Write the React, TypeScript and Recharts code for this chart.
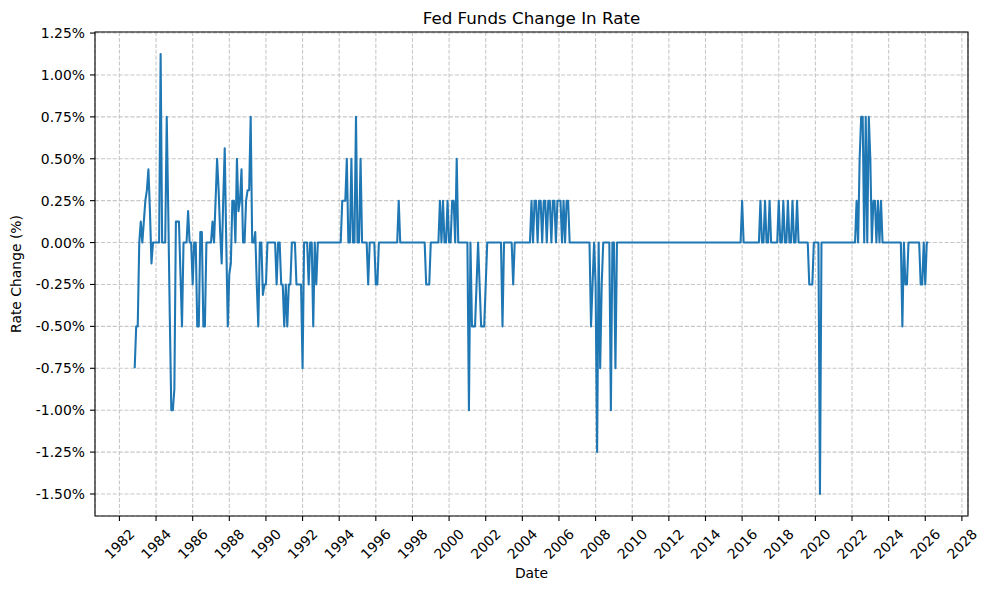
import React from 'react';
import { LineChart, Line, XAxis, YAxis, CartesianGrid, ReferenceArea } from 'recharts';

// Monthly change in the Fed funds target (percentage points), one entry per month,
// plotted at the end of that month. 1982 starts in October.
const FIRST_YEAR = 1982;
const FIRST_MONTH = 10;
const y1982 = [-0.75, -0.5, -0.5];
const y1983 = [0, 0.125, 0, 0.125, 0.25, 0.3125, 0.4375, 0.1875, -0.125, 0, 0, 0];
const y1984 = [0, 0, 1.125, 0, 0, 0, 0.75, 0.1875, -0.4375, -1.0, -1.0, -0.875];
const y1985 = [0.125, 0.125, 0.125, -0.1875, -0.5, 0, 0, 0, 0.1875, 0, 0, -0.25];
const y1986 = [0, 0, -0.5, -0.5, 0.0625, 0.0625, -0.5, -0.5, 0, 0, 0, 0];
const y1987 = [0.125, 0, 0.25, 0.5, 0.3125, 0.0625, -0.125, 0.25, 0.5625, 0, -0.5, -0.1875];
const y1988 = [-0.125, 0.25, 0.25, 0, 0.5, 0.1875, 0.25, 0.4375, 0, 0, 0.25, 0.3125];
const y1989 = [0.3125, 0.75, 0, 0, 0.0625, -0.25, -0.5, 0, 0, -0.3125, -0.25, -0.25];
const y1990 = [0, 0, 0, 0, 0, 0, -0.25, 0, 0, -0.25, -0.25, -0.5];
const y1991 = [-0.25, -0.5, -0.25, -0.25, 0, 0, 0, -0.25, -0.25, -0.25, -0.25, -0.75];
const y1992 = [0, 0, 0, -0.25, 0, 0, -0.5, 0, -0.25, 0, 0, 0];
const y1993 = [0, 0, 0, 0, 0, 0, 0, 0, 0, 0, 0, 0];
const y1994 = [0, 0.25, 0.25, 0.25, 0.5, 0, 0, 0.5, 0, 0, 0.75, 0];
const y1995 = [0, 0.5, 0, 0, 0, 0, -0.25, 0, 0, 0, 0, -0.25];
const y1996 = [-0.25, 0, 0, 0, 0, 0, 0, 0, 0, 0, 0, 0];
const y1997 = [0, 0, 0.25, 0, 0, 0, 0, 0, 0, 0, 0, 0];
const y1998 = [0, 0, 0, 0, 0, 0, 0, 0, -0.25, -0.25, -0.25, 0];
const y1999 = [0, 0, 0, 0, 0, 0.25, 0, 0.25, 0, 0, 0.25, 0];
const y2000 = [0, 0.25, 0.25, 0, 0.5, 0, 0, 0, 0, 0, 0, 0];
const y2001 = [-1.0, 0, -0.5, -0.5, -0.5, -0.25, 0, -0.25, -0.5, -0.5, -0.5, -0.25];
const y2002 = [0, 0, 0, 0, 0, 0, 0, 0, 0, 0, -0.5, 0];
const y2003 = [0, 0, 0, 0, 0, -0.25, 0, 0, 0, 0, 0, 0];
const y2004 = [0, 0, 0, 0, 0, 0.25, 0, 0.25, 0.25, 0, 0.25, 0.25];
const y2005 = [0, 0.25, 0.25, 0, 0.25, 0.25, 0, 0.25, 0.25, 0, 0.25, 0.25];
const y2006 = [0.25, 0, 0.25, 0, 0.25, 0.25, 0, 0, 0, 0, 0, 0];
const y2007 = [0, 0, 0, 0, 0, 0, 0, 0, -0.5, -0.25, 0, -0.25];
const y2008 = [-1.25, 0, -0.75, -0.25, 0, 0, 0, 0, 0, -1.0, 0, 0];
const y2009 = [-0.75, 0, 0, 0, 0, 0, 0, 0, 0, 0, 0, 0];
const y2010 = [0, 0, 0, 0, 0, 0, 0, 0, 0, 0, 0, 0];
const y2011 = [0, 0, 0, 0, 0, 0, 0, 0, 0, 0, 0, 0];
const y2012 = [0, 0, 0, 0, 0, 0, 0, 0, 0, 0, 0, 0];
const y2013 = [0, 0, 0, 0, 0, 0, 0, 0, 0, 0, 0, 0];
const y2014 = [0, 0, 0, 0, 0, 0, 0, 0, 0, 0, 0, 0];
const y2015 = [0, 0, 0, 0, 0, 0, 0, 0, 0, 0, 0, 0.25];
const y2016 = [0, 0, 0, 0, 0, 0, 0, 0, 0, 0, 0, 0.25];
const y2017 = [0, 0, 0.25, 0, 0, 0.25, 0, 0, 0, 0, 0, 0.25];
const y2018 = [0, 0, 0.25, 0, 0, 0.25, 0, 0, 0.25, 0, 0, 0.25];
const y2019 = [0, 0, 0, 0, 0, 0, 0, -0.25, -0.25, -0.25, 0, 0];
const y2020 = [0, 0, -1.5, 0, 0, 0, 0, 0, 0, 0, 0, 0];
const y2021 = [0, 0, 0, 0, 0, 0, 0, 0, 0, 0, 0, 0];
const y2022 = [0, 0, 0.25, 0, 0.5, 0.75, 0.75, 0, 0.75, 0, 0.75, 0.5];
const y2023 = [0, 0.25, 0.25, 0, 0.25, 0, 0.25, 0, 0, 0, 0, 0];
const y2024 = [0, 0, 0, 0, 0, 0, 0, 0, -0.5, 0, -0.25, -0.25];
const y2025 = [0, 0, 0, 0, 0, 0, 0, 0, -0.25, -0.25, 0, -0.25];
const y2026 = [0, 0];

const years = [
  y1982, y1983, y1984, y1985, y1986, y1987, y1988, y1989, y1990, y1991,
  y1992, y1993, y1994, y1995, y1996, y1997, y1998, y1999, y2000, y2001,
  y2002, y2003, y2004, y2005, y2006, y2007, y2008, y2009, y2010, y2011,
  y2012, y2013, y2014, y2015, y2016, y2017, y2018, y2019, y2020, y2021,
  y2022, y2023, y2024, y2025, y2026,
];

const xTicks = [1982, 1984, 1986, 1988, 1990, 1992, 1994, 1996, 1998, 2000, 2002, 2004, 2006, 2008, 2010, 2012, 2014, 2016, 2018, 2020, 2022, 2024, 2026, 2028];
const yTicks = [-1.5, -1.25, -1.0, -0.75, -0.5, -0.25, 0, 0.25, 0.5, 0.75, 1.0, 1.25];

type Pt = { t: number; v: number };
const data: Pt[] = [];
years.forEach((arr, i) => {
  const year = FIRST_YEAR + i;
  const start = i === 0 ? FIRST_MONTH : 1;
  arr.forEach((v, j) => {
    const month = start + j; // end of this month
    data.push({ t: year + month / 12, v });
  });
});

const tMin = Math.min(...data.map((d) => d.t));
const tMax = Math.max(...data.map((d) => d.t));
const vMin = Math.min(...data.map((d) => d.v));
const vMax = Math.max(...data.map((d) => d.v));
const tPad = (tMax - tMin) * 0.05;
const vPad = (vMax - vMin) * 0.05;
const xDomain: [number, number] = [tMin - tPad, tMax + tPad];
const yDomain: [number, number] = [vMin - vPad, vMax + vPad];

const FONT = '"DejaVu Sans", Verdana, sans-serif';
const FS = 13.9;

function XTick(props: any) {
  const { x, y, payload } = props;
  const cy = y + 21;
  return (
    <text
      x={x}
      y={cy}
      transform={`rotate(-45 ${x} ${cy})`}
      textAnchor="middle"
      dominantBaseline="central"
      fontSize={FS}
      fontFamily={FONT}
      fill="#000"
    >
      {payload.value}
    </text>
  );
}

function XLabel(props: any) {
  const vb = props.viewBox || { x: 95, y: 516, width: 873 };
  return (
    <text x={vb.x + vb.width / 2} y={vb.y + 62} textAnchor="middle" fontSize={FS} fontFamily={FONT} fill="#000">
      Date
    </text>
  );
}

function YLabel(props: any) {
  const vb = props.viewBox || { x: 0, y: 32, width: 95, height: 484 };
  const cx = vb.x + 16;
  const cy = vb.y + vb.height / 2;
  return (
    <text
      x={cx}
      y={cy}
      transform={`rotate(-90 ${cx} ${cy})`}
      textAnchor="middle"
      dominantBaseline="central"
      fontSize={FS}
      fontFamily={FONT}
      fill="#000"
    >
      Rate Change (%)
    </text>
  );
}

export default function App() {
  return (
    <div style={{ position: 'relative', width: 989, height: 590, background: '#fff' }}>
      <style>{'body{margin:0;background:#fff}'}</style>
      <div
        style={{
          position: 'absolute',
          left: 95,
          width: 873,
          top: 8,
          textAlign: 'center',
          fontFamily: FONT,
          fontSize: 16.7,
          lineHeight: '20px',
          color: '#000',
        }}
      >
        Fed Funds Change In Rate
      </div>
      <LineChart width={989} height={590} data={data} margin={{ top: 32, right: 21, bottom: 0, left: 0 }}>
        <CartesianGrid stroke="#c8c8c8" strokeWidth={1.1} strokeDasharray="4.1 1.8" />
        <XAxis
          dataKey="t"
          type="number"
          domain={xDomain}
          ticks={xTicks}
          interval={0}
          height={74}
          tickSize={5}
          tickLine={{ stroke: '#000', strokeWidth: 1.1 }}
          axisLine={false}
          tick={<XTick />}
          label={<XLabel />}
        />
        <YAxis
          type="number"
          domain={yDomain}
          ticks={yTicks}
          interval={0}
          width={95}
          tickSize={5}
          tickMargin={5}
          tickLine={{ stroke: '#000', strokeWidth: 1.1 }}
          axisLine={false}
          tickFormatter={(v: number) => `${v.toFixed(2)}%`}
          tick={{ fontSize: FS, fontFamily: FONT, fill: '#000' }}
          label={<YLabel />}
        />
        <Line
          type="linear"
          dataKey="v"
          stroke="#1f77b4"
          strokeWidth={2.08}
          strokeLinejoin="round"
          dot={false}
          activeDot={false}
          isAnimationActive={false}
        />
        <ReferenceArea
          x1={xDomain[0]}
          x2={xDomain[1]}
          y1={yDomain[0]}
          y2={yDomain[1]}
          fill="none"
          fillOpacity={0}
          stroke="#000"
          strokeWidth={1.1}
          strokeOpacity={1}
        />
      </LineChart>
    </div>
  );
}
